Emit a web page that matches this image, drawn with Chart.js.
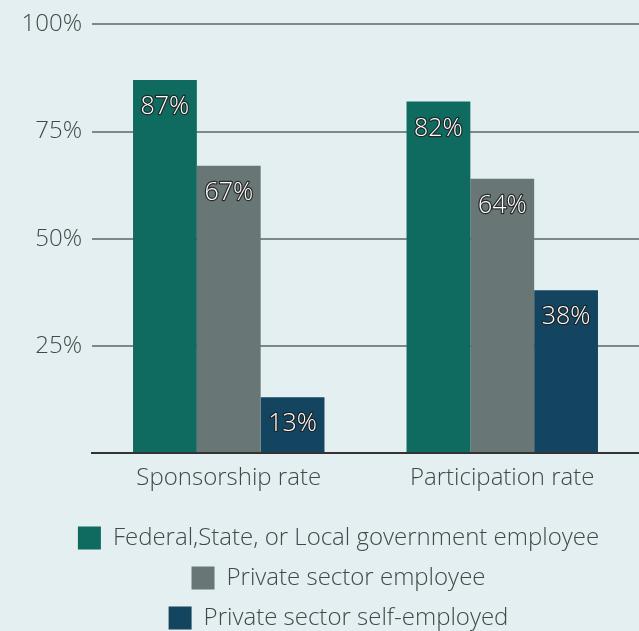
<!DOCTYPE html>
<html>
<head>
<meta charset="utf-8">
<script src="https://cdn.jsdelivr.net/npm/chart.js@4"></script>
<style>
html,body{margin:0;padding:0;background:#e3eff0;}
#wrap{width:639px;height:631px;}
</style>
</head>
<body>
<div id="wrap"><canvas id="c" width="639" height="631"></canvas></div>
<script>
const categories = ["Sponsorship rate", "Participation rate"];
const governmentEmployee = [87, 82];
const privateEmployee = [67, 64];
const privateSelfEmployed = [13, 38];
const seriesNames = ["Federal,State, or Local government employee", "Private sector employee", "Private sector self-employed"];
const yTicks = [0, 25, 50, 75, 100];

const FONT = "'Open Sans', sans-serif";
const FS = 24;

const barLabels = {
  id: 'barLabels',
  afterDatasetsDraw(chart) {
    const ctx = chart.ctx;
    ctx.save();
    ctx.font = "300 25px " + FONT;
    ctx.textAlign = 'center';
    ctx.textBaseline = 'middle';
    ctx.lineJoin = 'round';
    chart.data.datasets.forEach((ds, i) => {
      const meta = chart.getDatasetMeta(i);
      meta.data.forEach((bar, j) => {
        const txt = ds.data[j] + '%';
        const y = bar.y + 27;
        ctx.lineWidth = 2.5;
        ctx.strokeStyle = 'rgba(30,30,30,0.85)';
        ctx.strokeText(txt, bar.x, y);
        ctx.fillStyle = '#ffffff';
        ctx.fillText(txt, bar.x, y);
      });
    });
    ctx.restore();
  }
};

const legendShift = {
  id: 'legendShift',
  afterLayout(chart) {
    const lg = chart.legend;
    if (!lg) return;
    const dx = 19, dy = 9;
    lg.left += dx; lg.right += dx;
    lg.top += dy; lg.bottom += dy;
  }
};

new Chart(document.getElementById('c'), {
  type: 'bar',
  data: {
    labels: categories,
    datasets: [
      { label: seriesNames[0], data: governmentEmployee, backgroundColor: '#0f6b5f' },
      { label: seriesNames[1], data: privateEmployee, backgroundColor: '#687675' },
      { label: seriesNames[2], data: privateSelfEmployed, backgroundColor: '#134561' }
    ]
  },
  options: {
    responsive: false,
    animation: false,
    layout: { padding: { top: 8, right: 0, left: 0, bottom: 0 } },
    datasets: { bar: { categoryPercentage: 0.7, barPercentage: 1.0 } },
    plugins: {
      tooltip: { enabled: false },
      legend: {
        position: 'bottom',
        labels: {
          font: { family: FONT, size: FS, weight: 300 },
          color: '#3f4a4a',
          boxWidth: 23,
          boxHeight: 23,
          padding: 16
        }
      }
    },
    scales: {
      x: {
        afterFit(axis) { axis.height = 48; },
        grid: { display: false },
        border: { display: true, color: '#333333', width: 2 },
        ticks: { font: { family: FONT, size: FS, weight: 300 }, color: '#3f4a4a', padding: 3 }
      },
      y: {
        min: 0, max: 100,
        afterBuildTicks(axis) { axis.ticks = yTicks.map(v => ({ value: v })); },
        afterFit(axis) { axis.width = 92; },
        border: { display: false },
        grid: {
          drawTicks: false,
          color: ctx => ctx.tick && ctx.tick.value === 0 ? 'rgba(0,0,0,0)' : '#7b8988',
          lineWidth: 2
        },
        ticks: {
          padding: 10,
          font: { family: FONT, size: FS, weight: 300 },
          color: '#3f4a4a',
          callback: v => v === 0 ? '' : v + '%'
        }
      }
    }
  },
  plugins: [barLabels, legendShift]
});
</script>
</body>
</html>
